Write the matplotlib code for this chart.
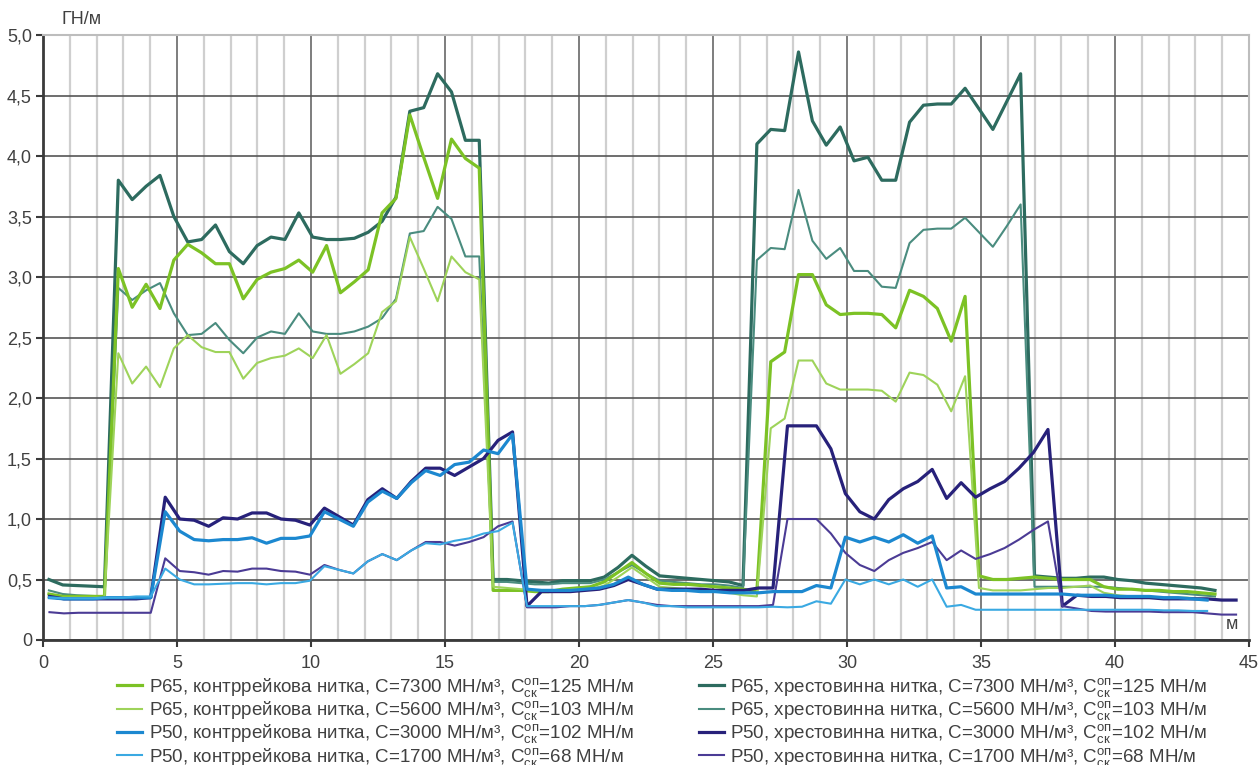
import numpy as np
import matplotlib.pyplot as plt
from matplotlib.ticker import MultipleLocator, FuncFormatter

plt.rcParams['font.family'] = ['Liberation Sans', 'DejaVu Sans']
plt.rcParams['mathtext.fontset'] = 'custom'
plt.rcParams['mathtext.rm'] = 'Liberation Sans'

# measurement grids (m): P65 turnout and P50 turnout
X65_START, X65_STEP = 0.22, 0.518
X50_START, X50_STEP = 0.24, 0.54

# P65, контррейкова нитка, C=7300
p65_k_7300 = [0.38, 0.36, 0.36, 0.36, 0.36,
              3.07, 2.75, 2.94, 2.74, 3.14, 3.27, 3.20, 3.11, 3.11, 2.82, 2.98, 3.04, 3.07, 3.14,
              3.04, 3.26, 2.87, 2.96, 3.06, 3.53, 3.65, 4.34, 3.99, 3.65, 4.14, 3.98, 3.90,
              0.41, 0.41, 0.41, 0.40, 0.40, 0.42, 0.43, 0.44, 0.48, 0.56, 0.64, 0.55, 0.47, 0.46,
              0.46, 0.45, 0.44, 0.43, 0.42, 0.40,
              2.30, 2.38, 3.02, 3.02, 2.77, 2.69, 2.70, 2.70, 2.69, 2.58, 2.89, 2.84, 2.74, 2.47, 2.84,
              0.53, 0.50, 0.50, 0.51, 0.52, 0.51, 0.50, 0.50, 0.50, 0.44, 0.42, 0.42, 0.41, 0.41,
              0.40, 0.40, 0.39, 0.38]
# P65, контррейкова нитка, C=5600
p65_k_5600 = [0.35, 0.35, 0.35, 0.35, 0.35,
              2.37, 2.12, 2.26, 2.09, 2.41, 2.52, 2.42, 2.38, 2.38, 2.16, 2.29, 2.33, 2.35, 2.41,
              2.33, 2.52, 2.20, 2.28, 2.37, 2.71, 2.80, 3.33, 3.07, 2.80, 3.17, 3.04, 2.98,
              0.44, 0.43, 0.42, 0.41, 0.41, 0.41, 0.42, 0.42, 0.45, 0.52, 0.60, 0.52, 0.44, 0.43,
              0.42, 0.41, 0.40, 0.39, 0.37, 0.36,
              1.75, 1.83, 2.31, 2.31, 2.12, 2.07, 2.07, 2.07, 2.06, 1.97, 2.21, 2.19, 2.11, 1.89, 2.18,
              0.43, 0.41, 0.41, 0.41, 0.42, 0.43, 0.43, 0.44, 0.45, 0.39, 0.37, 0.36, 0.36, 0.35,
              0.35, 0.35, 0.34, 0.34]
# P65, хрестовинна нитка, C=7300
p65_h_7300 = [0.50, 0.455, 0.45, 0.445, 0.44,
              3.80, 3.64, 3.75, 3.84, 3.50, 3.29, 3.31, 3.43, 3.21, 3.11, 3.26, 3.33, 3.31, 3.53,
              3.33, 3.31, 3.31, 3.32, 3.37, 3.46, 3.66, 4.37, 4.40, 4.68, 4.53, 4.13, 4.13,
              0.50, 0.50, 0.49, 0.48, 0.47, 0.49, 0.49, 0.49, 0.52, 0.60, 0.70, 0.61, 0.53, 0.52,
              0.51, 0.50, 0.49, 0.48, 0.45,
              4.10, 4.22, 4.21, 4.86, 4.29, 4.09, 4.24, 3.96, 3.99, 3.80, 3.80, 4.28, 4.42, 4.43,
              4.43, 4.56, 4.39, 4.22, 4.45, 4.68,
              0.53, 0.52, 0.51, 0.51, 0.52, 0.52, 0.50, 0.49, 0.47, 0.46, 0.45, 0.44, 0.43, 0.41]
# P65, хрестовинна нитка, C=5600
p65_h_5600 = [0.41, 0.38, 0.37, 0.365, 0.36,
              2.91, 2.81, 2.89, 2.95, 2.70, 2.52, 2.53, 2.62, 2.48, 2.37, 2.50, 2.55, 2.53, 2.70,
              2.55, 2.53, 2.53, 2.55, 2.59, 2.66, 2.82, 3.36, 3.38, 3.58, 3.48, 3.17, 3.17,
              0.48, 0.48, 0.47, 0.46, 0.46, 0.47, 0.47, 0.47, 0.50, 0.56, 0.62, 0.55, 0.49, 0.48,
              0.47, 0.46, 0.46, 0.45, 0.43,
              3.14, 3.24, 3.23, 3.72, 3.30, 3.15, 3.24, 3.05, 3.05, 2.92, 2.91, 3.28, 3.39, 3.40,
              3.40, 3.49, 3.37, 3.25, 3.42, 3.60,
              0.44, 0.44, 0.44, 0.44, 0.44, 0.44, 0.43, 0.42, 0.41, 0.40, 0.39, 0.38, 0.37, 0.36]
# P50, контррейкова нитка, C=3000
p50_k_3000 = [0.35, 0.34, 0.34, 0.34, 0.35, 0.35, 0.35, 0.35,
              1.06, 0.90, 0.83, 0.82, 0.83, 0.83, 0.845, 0.80, 0.84, 0.84, 0.86, 1.06, 1.00, 0.94,
              1.14, 1.23, 1.17, 1.30, 1.40, 1.36, 1.45, 1.47, 1.57, 1.54, 1.70,
              0.42, 0.41, 0.41, 0.41, 0.42, 0.43, 0.46, 0.52, 0.46, 0.42, 0.41, 0.41, 0.40, 0.40,
              0.39, 0.39, 0.39, 0.40,
              0.40, 0.40, 0.45, 0.43, 0.85, 0.81, 0.85, 0.81, 0.87, 0.80, 0.86, 0.43, 0.44, 0.38,
              0.38, 0.38, 0.38, 0.38, 0.38, 0.38, 0.37, 0.37, 0.37, 0.36, 0.36, 0.36, 0.35, 0.35,
              0.34, 0.33]
# P50, контррейкова нитка, C=1700
p50_k_1700 = [0.35, 0.345, 0.345, 0.345, 0.35, 0.35, 0.36, 0.36,
              0.59, 0.50, 0.46, 0.46, 0.465, 0.47, 0.47, 0.46, 0.47, 0.47, 0.49, 0.61, 0.58, 0.55,
              0.65, 0.71, 0.66, 0.74, 0.80, 0.79, 0.82, 0.84, 0.88, 0.90, 0.97,
              0.28, 0.28, 0.28, 0.28, 0.28, 0.29, 0.31, 0.33, 0.31, 0.28, 0.28, 0.27, 0.27, 0.27,
              0.27, 0.27, 0.27, 0.275,
              0.27, 0.275, 0.32, 0.30, 0.50, 0.46, 0.50, 0.46, 0.50, 0.44, 0.50, 0.275, 0.29, 0.25,
              0.25, 0.25, 0.25, 0.25, 0.25, 0.25, 0.25, 0.25, 0.25, 0.25, 0.25, 0.25, 0.245, 0.245,
              0.24, 0.24]
# P50, хрестовинна нитка, C=3000
p50_h_3000 = [0.36, 0.34, 0.34, 0.34, 0.34, 0.34, 0.34, 0.35,
              1.18, 1.00, 0.99, 0.94, 1.01, 1.00, 1.05, 1.05, 1.00, 0.99, 0.95, 1.09, 1.02, 0.95,
              1.16, 1.25, 1.17, 1.31, 1.42, 1.42, 1.36, 1.43, 1.50, 1.65, 1.72,
              0.28, 0.40, 0.40, 0.40, 0.41, 0.42, 0.45, 0.50, 0.46, 0.42, 0.42, 0.42, 0.42, 0.41,
              0.41, 0.41, 0.43, 0.43,
              1.77, 1.77, 1.77, 1.58, 1.21, 1.06, 1.00, 1.16, 1.25, 1.31, 1.41, 1.17, 1.30, 1.18,
              1.25, 1.31, 1.42, 1.55, 1.74,
              0.28, 0.37, 0.36, 0.36, 0.35, 0.35, 0.35, 0.34, 0.34, 0.34, 0.34, 0.33, 0.33]
# P50, хрестовинна нитка, C=1700
p50_h_1700 = [0.23, 0.22, 0.225, 0.225, 0.225, 0.225, 0.225, 0.225,
              0.675, 0.57, 0.56, 0.54, 0.57, 0.565, 0.59, 0.59, 0.57, 0.565, 0.54, 0.62, 0.58, 0.55,
              0.65, 0.71, 0.66, 0.74, 0.81, 0.81, 0.78, 0.81, 0.85, 0.94, 0.98,
              0.27, 0.27, 0.27, 0.28, 0.28, 0.29, 0.31, 0.33, 0.31, 0.29, 0.28, 0.28, 0.28, 0.28,
              0.28, 0.28, 0.28, 0.29,
              1.00, 1.00, 1.00, 0.88, 0.72, 0.62, 0.57, 0.66, 0.72, 0.76, 0.81, 0.66, 0.74, 0.67,
              0.71, 0.76, 0.83, 0.91, 0.98,
              0.28, 0.26, 0.24, 0.235, 0.235, 0.235, 0.235, 0.23, 0.23, 0.23, 0.22, 0.21, 0.21]

COP = r'$\mathregular{C^{оп}_{ск}}$'
series = [
    (p65_k_7300, 'P65', '#7cc225', 2.3, 'P65, контррейкова нитка, C=7300 МН/м³, ' + COP + '=125 МН/м'),
    (p65_k_5600, 'P65', '#9ed35a', 1.5, 'P65, контррейкова нитка, C=5600 МН/м³, ' + COP + '=103 МН/м'),
    (p50_k_3000, 'P50', '#1c88d0', 2.3, 'P50, контррейкова нитка, C=3000 МН/м³, ' + COP + '=102 МН/м'),
    (p50_k_1700, 'P50', '#3aa9e2', 1.5, 'P50, контррейкова нитка, C=1700 МН/м³, ' + COP + '=68 МН/м'),
    (p65_h_7300, 'P65', '#2d6b5f', 2.3, 'P65, хрестовинна нитка, C=7300 МН/м³, ' + COP + '=125 МН/м'),
    (p65_h_5600, 'P65', '#4a8c7f', 1.5, 'P65, хрестовинна нитка, C=5600 МН/м³, ' + COP + '=103 МН/м'),
    (p50_h_3000, 'P50', '#27217a', 2.3, 'P50, хрестовинна нитка, C=3000 МН/м³, ' + COP + '=102 МН/м'),
    (p50_h_1700, 'P50', '#4b3b95', 1.5, 'P50, хрестовинна нитка, C=1700 МН/м³, ' + COP + '=68 МН/м'),
]

fig = plt.figure(figsize=(12.58, 7.65), dpi=100)
ax = fig.add_axes([0.0342, 0.1634, 0.9586, 0.7908])

# crossing-rail (хрестовинна) P65 series go underneath
order = [4, 5, 0, 1, 6, 7, 2, 3]
handles = {}
for k in order:
    y, grid, color, lw, label = series[k]
    if grid == 'P65':
        x = X65_START + X65_STEP * np.arange(len(y))
    else:
        x = X50_START + X50_STEP * np.arange(len(y))
    handles[k], = ax.plot(x, y, color=color, lw=lw, label=label, zorder=3)

ax.set_xlim(0, 45)
ax.set_ylim(0, 5)
ax.xaxis.set_major_locator(MultipleLocator(5))
ax.xaxis.set_minor_locator(MultipleLocator(1))
ax.yaxis.set_major_locator(MultipleLocator(0.5))
ax.yaxis.set_major_formatter(FuncFormatter(
    lambda v, p: '0' if abs(v) < 1e-9 else f'{v:.1f}'.replace('.', ',')))

ax.grid(which='minor', axis='x', color='#cfcfcf', lw=1.6, zorder=0)
ax.grid(which='major', axis='x', color='#5a5a5a', lw=1.1, zorder=1)
ax.grid(which='major', axis='y', color='#555555', lw=1.2, zorder=1)
ax.set_axisbelow(True)

for s in ['top', 'right']:
    ax.spines[s].set_color('#bdbdbd')
    ax.spines[s].set_linewidth(1.5)
for s in ['left', 'bottom']:
    ax.spines[s].set_color('#3a3a3a')
    ax.spines[s].set_linewidth(2.0)

ax.tick_params(axis='both', which='major', length=5, width=1.5, color='#3a3a3a',
               labelsize=13, labelcolor='#404040', pad=3)
ax.tick_params(axis='x', which='minor', length=0)
ax.tick_params(axis='x', which='major', pad=6)

fig.text(0.049, 0.975, 'ГН/м', fontsize=13, color='#404040', ha='left', va='center')
ax.text(44.6, 0.13, 'м', fontsize=13, color='#404040', ha='right', va='center')

leg_handles = [handles[k] for k in range(8)]
leg_labels = [series[k][4] for k in range(8)]
fig.legend(leg_handles, leg_labels, ncol=2, loc='upper left',
           bbox_to_anchor=(0.0855, 0.129), frameon=False, fontsize=13.5,
           labelcolor='#404040', handlelength=1.35, handletextpad=0.35,
           columnspacing=3.45, labelspacing=0.02, borderpad=0)

fig.savefig('out.png', dpi=100)
